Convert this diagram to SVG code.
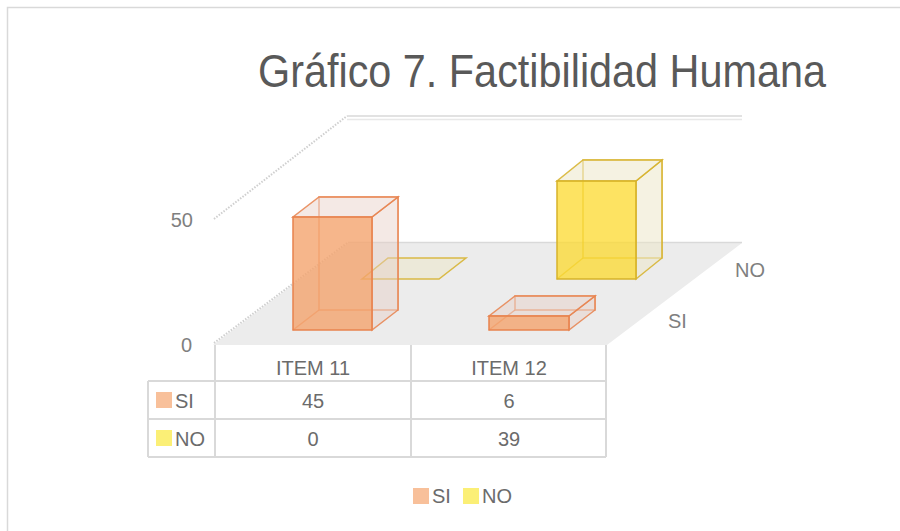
<svg xmlns="http://www.w3.org/2000/svg" width="900" height="531" viewBox="0 0 900 531">
<style>
text{font-family:"Liberation Sans Narrow","Liberation Sans",Arial,sans-serif;}
.ax{font-size:20px;fill:#7f7f7f;}
.tb{font-size:20px;fill:#6b6b6b;}
.grid{stroke:#d9d9d9;stroke-width:1.5;fill:none;}
.dot{stroke:#cfcfcf;stroke-width:2;stroke-dasharray:1.5 1.5;fill:none;}
.tl{stroke:#d9d9d9;stroke-width:2;fill:none;}
.oF{fill:#f4a46e;fill-opacity:0.8;stroke:#e8834e;stroke-width:1.5;}
.oS{fill:#e6cfc6;fill-opacity:0.45;stroke:#e8834e;stroke-width:1.5;stroke-opacity:0.85;}
.oB{fill:none;stroke:#e8834e;stroke-width:1.5;stroke-opacity:0.75;}
.yF{fill:#fcd92e;fill-opacity:0.75;stroke:#d6b22a;stroke-width:1.5;}
.yS{fill:#ece5c6;fill-opacity:0.5;stroke:#d6b22a;stroke-width:1.5;stroke-opacity:0.85;}
.yB{fill:none;stroke:#d6b22a;stroke-width:1.5;stroke-opacity:0.75;}
</style>
<rect x="0" y="0" width="900" height="531" fill="#ffffff"/>
<path d="M7.5 531 V7.5 H900" fill="none" stroke="#d9d9d9" stroke-width="1.5"/>
<text x="258" y="87" font-size="46" fill="#595959" textLength="568" lengthAdjust="spacingAndGlyphs">Gráfico 7. Factibilidad Humana</text>

<g id="walls">
  <polygon points="213,345 607,345 742,243 348,243" fill="#ececec"/>
  <line class="grid" x1="348" y1="242.5" x2="742" y2="242.5"/>
  <line class="grid" x1="347" y1="116" x2="742" y2="116"/>
  <line x1="347" y1="119.5" x2="742" y2="119.5" stroke="#e8e8e8" stroke-width="1.5"/>
  <line class="dot" x1="214" y1="219" x2="347" y2="116"/>
  <line class="dot" x1="214" y1="343" x2="347" y2="243"/>
</g>

<g id="axis-labels">
  <text class="ax" x="193" y="227" text-anchor="end">50</text>
  <text class="ax" x="192" y="352" text-anchor="end">0</text>
  <text class="ax" x="735" y="277">NO</text>
  <text class="ax" x="668" y="328">SI</text>
</g>

<g id="bar-item11-no">
  <polygon class="yS" points="362,279 439,279 466,258 388,258"/>
</g>

<g id="bar-item12-no">
  <polygon class="yB" points="583,160 662,160 662,258 583,258"/>
  <line class="yB" x1="557" y1="279" x2="583" y2="258"/>
  <polygon class="yS" points="636,181 662,160 662,258 636,279"/>
  <polygon class="yS" points="557,181 636,181 662,160 583,160"/>
  <rect class="yF" x="557" y="181" width="79" height="98"/>
</g>

<g id="bar-item11-si">
  <polygon class="oB" points="319,197 398,197 398,310 319,310"/>
  <line class="oB" x1="293" y1="330" x2="319" y2="310"/>
  <polygon class="oS" points="372,217 398,197 398,310 372,330"/>
  <polygon class="oS" points="293,217 372,217 398,197 319,197"/>
  <rect class="oF" x="293" y="217" width="79" height="113"/>
</g>

<g id="bar-item12-si">
  <polygon class="oB" points="515,296 595,296 595,310 515,310"/>
  <line class="oB" x1="489" y1="330" x2="515" y2="310"/>
  <polygon class="oS" points="569,316 595,296 595,310 569,330"/>
  <polygon class="oS" points="489,316 569,316 595,296 515,296"/>
  <rect class="oF" x="489" y="316" width="80" height="14"/>
</g>

<g id="data-table">
  <line class="tl" x1="148" y1="381" x2="606" y2="381"/>
  <line class="tl" x1="148" y1="419" x2="606" y2="419"/>
  <line class="tl" x1="148" y1="457" x2="606" y2="457"/>
  <line class="tl" x1="148" y1="381" x2="148" y2="457"/>
  <line class="tl" x1="215" y1="345" x2="215" y2="457"/>
  <line class="tl" x1="411" y1="345" x2="411" y2="457"/>
  <line class="tl" x1="606" y1="345" x2="606" y2="457"/>
  <text class="tb" x="313" y="375" text-anchor="middle">ITEM 11</text>
  <text class="tb" x="509" y="375" text-anchor="middle">ITEM 12</text>
  <rect x="156" y="392" width="16" height="16" fill="#f8c09a"/>
  <text class="tb" x="175" y="408">SI</text>
  <text class="tb" x="313" y="408" text-anchor="middle">45</text>
  <text class="tb" x="509" y="408" text-anchor="middle">6</text>
  <rect x="156" y="430" width="16" height="16" fill="#fbef76"/>
  <text class="tb" x="175" y="446">NO</text>
  <text class="tb" x="313" y="446" text-anchor="middle">0</text>
  <text class="tb" x="509" y="446" text-anchor="middle">39</text>
</g>

<g id="legend">
  <rect x="413" y="488" width="16" height="16" fill="#f8c09a"/>
  <text class="tb" x="432" y="503">SI</text>
  <rect x="463" y="488" width="16" height="16" fill="#fbef76"/>
  <text class="tb" x="482" y="503">NO</text>
</g>
</svg>
